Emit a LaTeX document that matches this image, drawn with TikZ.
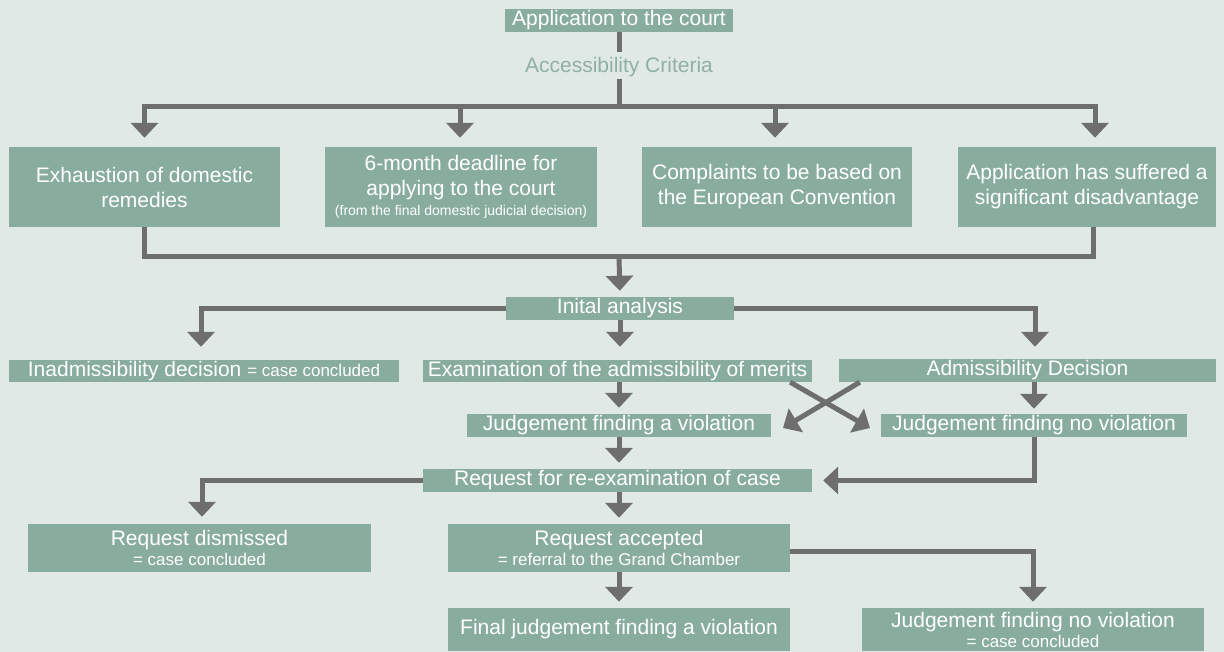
\documentclass[tikz,border=0pt]{standalone}
\usepackage{fontspec}
\setmainfont{Liberation Sans}
\usetikzlibrary{arrows.meta,calc}
\definecolor{bgc}{HTML}{E1E9E6}
\definecolor{boxc}{HTML}{88AC9E}
\definecolor{linec}{HTML}{6E6E6E}
\definecolor{accc}{HTML}{8FB0A3}
\newcommand\smtxt{\fontsize{17}{19}\selectfont}
\newcommand\tinytxt{\fontsize{14}{16}\selectfont}
\begin{document}
\begin{tikzpicture}[x=1pt,y=-1pt,
  box/.style={fill=boxc,text=white,inner sep=0pt,align=center,font=\fontsize{21}{25}\selectfont},
  conn/.style={draw=linec,line width=5pt},
  arr/.style={conn,-{Triangle[width=27pt,length=15pt]}},
]
\fill[bgc] (0,0) rectangle (1224,652);
\useasboundingbox (0,0) rectangle (1224,652);

% nodes
\node[box,minimum width=228pt,minimum height=23pt] (app) at (619,20.5) {Application to the court};
\node[inner sep=0pt,minimum height=24pt,text=accc,font=\fontsize{21}{25}\selectfont] (acc) at (619,67) {Accessibility Criteria};

\node[box,minimum width=271pt,minimum height=80pt] (A) at (144.5,187) {Exhaustion of domestic\\remedies};
\node[box,minimum width=272pt,minimum height=80pt] (B) at (461,187) {6-month deadline for\\applying to the court\\[-5pt]{\tinytxt (from the final domestic judicial decision)}};
\node[box,minimum width=270pt,minimum height=80pt] (C) at (777,187) {Complaints to be based on\\the European Convention};
\node[box,minimum width=258pt,minimum height=80pt] (D) at (1087,187) {Application has suffered a\\significant disadvantage};

\node[box,minimum width=228pt,minimum height=23pt] (ini) at (620,308.5) {Inital analysis};

\node[box,minimum width=390pt,minimum height=22pt] (inad) at (204,371) {Inadmissibility decision {\smtxt = case concluded}};
\node[box,minimum width=389pt,minimum height=22pt] (exam) at (617.5,371) {Examination of the admissibility of merits};
\node[box,minimum width=377pt,minimum height=23pt] (adm) at (1027.5,370.5) {Admissibility Decision};

\node[box,minimum width=304pt,minimum height=23pt] (jv) at (619,425.5) {Judgement finding a violation};
\node[box,minimum width=306pt,minimum height=23pt] (jnv) at (1034,425.5) {Judgement finding no violation};

\node[box,minimum width=389pt,minimum height=23pt] (reex) at (617.5,480.5) {Request for re-examination of case};

\node[box,minimum width=343pt,minimum height=48pt] (dism) at (199.5,548) {Request dismissed\\[-5pt]{\smtxt = case concluded}};
\node[box,minimum width=342pt,minimum height=48pt] (accp) at (619,548) {Request accepted\\[-5pt]{\smtxt = referral to the Grand Chamber}};

\node[box,minimum width=342pt,minimum height=43pt] (final) at (619,629.5) {Final judgement finding a violation};
\node[box,minimum width=342pt,minimum height=43pt] (jnv2) at (1033,629.5) {Judgement finding no violation\\[-5pt]{\smtxt = case concluded}};

% coordinates
\coordinate (busM) at (619,107);
\coordinate (busB) at (619,257);
\coordinate (xt1) at (870,428);
\coordinate (xt2) at (783,428);

% connectors
\draw[conn,shorten >=3pt] (app) -- (acc);
\draw[conn] (acc) -- (busM);
\draw[arr,shorten >=9pt] (busM) -| (A.north);
\draw[arr,shorten >=9pt] (busM) -| ([xshift=-1pt]B.north);
\draw[arr,shorten >=9pt] (busM) -| ([xshift=-2pt]C.north);
\draw[arr,shorten >=9pt] (busM) -| ([xshift=8pt]D.north);

\draw[conn] (A.south) |- (busB) -| ([xshift=6pt]D.south);
\draw[arr,shorten >=6pt] (busB) -- (ini.north);

\draw[arr,shorten >=13pt] (ini.west) -| ([xshift=-3pt]inad.north);
\draw[arr,shorten >=12pt] (ini.east) -| ([xshift=7.5pt]adm.north);
\draw[arr,shorten >=13pt] (ini.south) -- (ini.south |- exam.north);

\draw[arr,shorten >=6pt] (exam.south -| jv.north) -- (jv.north);
\draw[arr,shorten >=5pt] (adm.south -| jnv.north) -- (jnv.north);
\draw[arr] ([xshift=-22pt]exam.south east) -- (xt1);
\draw[arr] ([xshift=21pt]adm.south west) -- (xt2);

\draw[arr,shorten >=6pt] (jv.south) -- (jv.south |- reex.north);
\draw[arr,shorten >=11pt] (jnv.south) |- (reex.east);

\draw[arr,shorten >=7pt] (reex.west) -| ([xshift=2.5pt]dism.north);
\draw[arr,shorten >=6pt] (reex.south -| accp.north) -- (accp.north);

\draw[arr,shorten >=6pt] (accp.south) -- (final.north);
\draw[arr,shorten >=6pt] ([yshift=-3pt]accp.east) -| (jnv2.north);
\end{tikzpicture}
\end{document}
